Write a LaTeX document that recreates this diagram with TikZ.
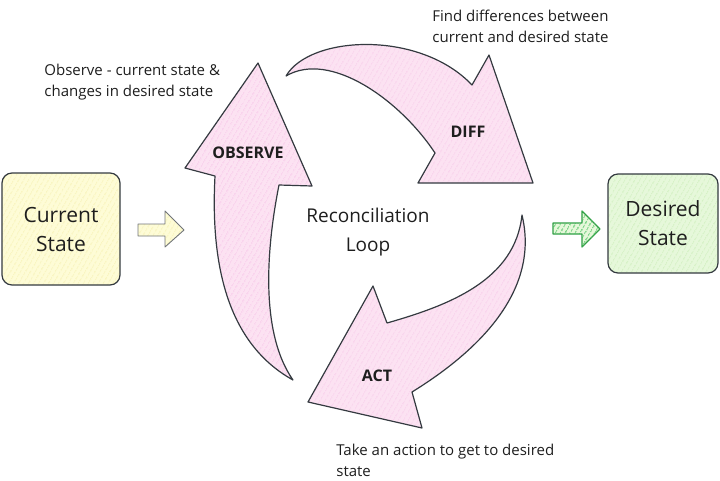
\documentclass[tikz,border=0pt]{standalone}
\usepackage{fontspec}
\setmainfont{Open Sans}
\usetikzlibrary{patterns.meta}
\definecolor{inkgray}{RGB}{52,58,64}
\definecolor{textink}{RGB}{30,30,30}
\definecolor{pinkfill}{RGB}{252,226,242}
\definecolor{pinkhatch}{RGB}{245,188,228}
\definecolor{yellowfill}{RGB}{254,252,214}
\definecolor{yellowhatch}{RGB}{240,232,150}
\definecolor{greenfill}{RGB}{230,248,218}
\definecolor{greenhatch}{RGB}{184,230,160}
\definecolor{greenink}{RGB}{47,158,68}
\definecolor{greenarrow}{RGB}{64,192,87}

\begin{document}
\begin{tikzpicture}[x=1pt,y=-1pt,thick,
    ink/.style={draw=inkgray,line width=1.2pt,line join=round},
    hatch/.style={preaction={fill=#1fill},preaction={pattern={Lines[angle=60,distance=4pt,line width=0.5pt]},pattern color=#1hatch}},
    loopshape/.style={ink,hatch=pink},
    statebox/.style={ink,hatch=#1,rounded corners=10pt,align=center,text=textink,font=\fontsize{21}{29}\selectfont},
    note/.style={align=left,inner sep=0pt,text=textink,font=\fontsize{15}{21}\selectfont},
    steplabel/.style={text=textink,font=\fontsize{16}{18}\selectfont\bfseries}]
    \useasboundingbox (0,0) rectangle (720,480);

    \node[statebox=yellow,minimum width=118pt,minimum height=112pt] (current) at (61,229) {Current\\State};
    \node[statebox=green,minimum width=110pt,minimum height=99pt] (desired) at (663,223.5) {Desired\\State};

    \draw[ink,hatch=yellow,draw=inkgray!70,line width=0.9pt] (138,224) -- (165,224) -- (165,211) -- (184,230) -- (165,247) -- (165,236) -- (138,236) -- cycle;
    \draw[draw=greenink,line width=1.2pt,line join=round,fill=greenfill,postaction={pattern={Lines[angle=60,distance=4pt,line width=1pt]},pattern color=greenarrow}] (553,223) -- (582,223) -- (582,211) -- (600,229) -- (582,247) -- (582,234) -- (553,234) -- cycle;

    \draw[loopshape] (258,63) -- (312,186) -- (279,185) .. controls (268,240) and (258,330) .. (293,380)
        .. controls (230,345) and (210,270) .. (215,176) -- (185,168) -- cycle;
    \draw[loopshape] (286,76) .. controls (310,35) and (420,30) .. (472,85) -- (489,55) -- (533,183)
        -- (418,183) -- (435,153) .. controls (400,100) and (330,50) .. cycle;
    \draw[loopshape] (522,215) .. controls (540,290) and (480,350) .. (412,392) -- (422,428) -- (308,402)
        -- (373,286) -- (387,323) .. controls (450,305) and (515,280) .. cycle;

    \node[steplabel] (observe) at (248,153) {OBSERVE};
    \node[steplabel] (diff) at (468,132) {DIFF};
    \node[steplabel] (act) at (377,376) {ACT};

    \node[align=center,text=textink,font=\fontsize{19}{29}\selectfont] (loop) at (368,232.5) {Reconciliation\\Loop};

    \node[note,anchor=west] (observenote) at (44,82.5) {Observe - current state \&\\changes in desired state};
    \node[note,anchor=west] (diffnote) at (432,26.5) {Find differences between\\current and desired state};
    \node[note,anchor=west] (actnote) at (336,460.5) {Take an action to get to desired\\state};
\end{tikzpicture}
\end{document}
